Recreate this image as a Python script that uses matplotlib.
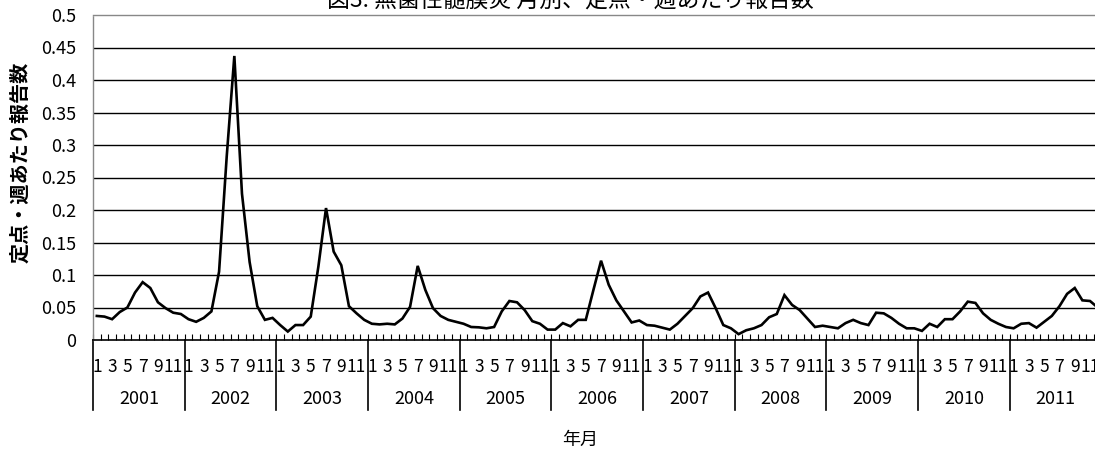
import matplotlib
matplotlib.use("Agg")
import matplotlib.pyplot as plt
from matplotlib.lines import Line2D
import matplotlib.transforms as mtransforms

plt.rcParams['font.family'] = ['Noto Sans CJK JP', 'DejaVu Sans']

title = "図3. 無菌性髄膜炎 月別、定点・週あたり報告数"
ylabel = "定点・週あたり報告数"
xlabel = "年月"
years = [str(y) for y in range(2001, 2012)]
month_labels = ["1", "3", "5", "7", "9", "11"]
ytick_values = [0, 0.05, 0.1, 0.15, 0.2, 0.25, 0.3, 0.35, 0.4, 0.45, 0.5]
ytick_labels = ["0", "0.05", "0.1", "0.15", "0.2", "0.25", "0.3", "0.35", "0.4", "0.45", "0.5"]

v2001 = [0.037, 0.036, 0.032, 0.043, 0.050, 0.073, 0.089, 0.080, 0.058, 0.049, 0.042, 0.040]
v2002 = [0.032, 0.028, 0.034, 0.044, 0.105, 0.282, 0.437, 0.225, 0.120, 0.052, 0.031, 0.034]
v2003 = [0.023, 0.013, 0.023, 0.023, 0.036, 0.113, 0.203, 0.136, 0.115, 0.052, 0.041, 0.031]
v2004 = [0.025, 0.024, 0.025, 0.024, 0.033, 0.051, 0.114, 0.077, 0.049, 0.037, 0.031, 0.028]
v2005 = [0.025, 0.020, 0.0195, 0.018, 0.020, 0.044, 0.060, 0.058, 0.046, 0.029, 0.025, 0.016]
v2006 = [0.016, 0.026, 0.021, 0.031, 0.031, 0.077, 0.122, 0.085, 0.061, 0.044, 0.027, 0.030]
v2007 = [0.023, 0.022, 0.019, 0.016, 0.025, 0.037, 0.049, 0.067, 0.073, 0.049, 0.023, 0.018]
v2008 = [0.009, 0.015, 0.018, 0.023, 0.035, 0.040, 0.069, 0.054, 0.046, 0.033, 0.020, 0.022]
v2009 = [0.020, 0.018, 0.026, 0.031, 0.026, 0.023, 0.042, 0.041, 0.034, 0.025, 0.018, 0.018]
v2010 = [0.014, 0.025, 0.020, 0.032, 0.032, 0.044, 0.059, 0.057, 0.041, 0.031, 0.025, 0.020]
v2011 = [0.018, 0.025, 0.026, 0.019, 0.028, 0.037, 0.052, 0.071, 0.080, 0.061, 0.060, 0.050]

series = v2001 + v2002 + v2003 + v2004 + v2005 + v2006 + v2007 + v2008 + v2009 + v2010 + v2011
n = len(series)

W, H = 1095, 463
fig = plt.figure(figsize=(W / 100, H / 100), dpi=100)
left_px, right_px, top_px, bot_px = 93, 93 + n * 7.64, 15, 340
ax = fig.add_axes([left_px / W, 1 - bot_px / H, (right_px - left_px) / W, (bot_px - top_px) / H])

xs = [i + 0.5 for i in range(n)]
ax.plot(xs, series, color='black', lw=1.9, solid_joinstyle='miter', clip_on=False, zorder=3)

ax.set_xlim(0, n)
ax.set_ylim(0, 0.5)
ax.set_yticks(ytick_values)
ax.set_yticklabels(ytick_labels, fontsize=13)
ax.tick_params(axis='y', length=0, pad=12)
for v in ytick_values[1:-1]:
    ax.axhline(v, color='black', lw=1.0, zorder=1)

# month labels
mpos = []
mlab = []
for yi in range(len(years)):
    for k, lab in enumerate(month_labels):
        mpos.append(yi * 12 + 2 * k + 0.5)
        mlab.append(lab)
ax.set_xticks(mpos)
ax.set_xticklabels(mlab, fontsize=12.5)
ax.tick_params(axis='x', which='major', length=0, pad=13)
ax.set_xticks(range(n + 1), minor=True)
ax.tick_params(axis='x', which='minor', direction='in', length=4, width=0.8, color='black')

for s in ['top', 'left']:
    ax.spines[s].set_color('#888888')
    ax.spines[s].set_linestyle((0, (1, 1)))
    ax.spines[s].set_linewidth(1.0)
ax.spines['right'].set_visible(False)
ax.spines['bottom'].set_color('black')
ax.spines['bottom'].set_linewidth(1.2)

trans = mtransforms.blended_transform_factory(ax.transData, fig.transFigure)
y_axis_fig = 1 - bot_px / H
y_sep_bottom = 1 - 410 / H
for yi in range(len(years) + 1):
    ax.add_line(Line2D([yi * 12, yi * 12], [y_axis_fig, y_sep_bottom], transform=trans,
                       color='black', lw=1.2, clip_on=False))
for yi, yr in enumerate(years):
    ax.text(yi * 12 + 6, 1 - 399 / H, yr, transform=trans, ha='center', va='center', fontsize=13)

fig.text(580 / W, 1 - 440 / H, xlabel, ha='center', va='center', fontsize=13)
fig.text(20 / W, 1 - 162 / H, ylabel, ha='center', va='center', rotation=90, fontsize=14.5, fontweight='bold')
fig.text(570 / W, 1 - 7 / H, title, ha='center', va='baseline', fontsize=16.5)

fig.savefig('out.png', dpi=100)
